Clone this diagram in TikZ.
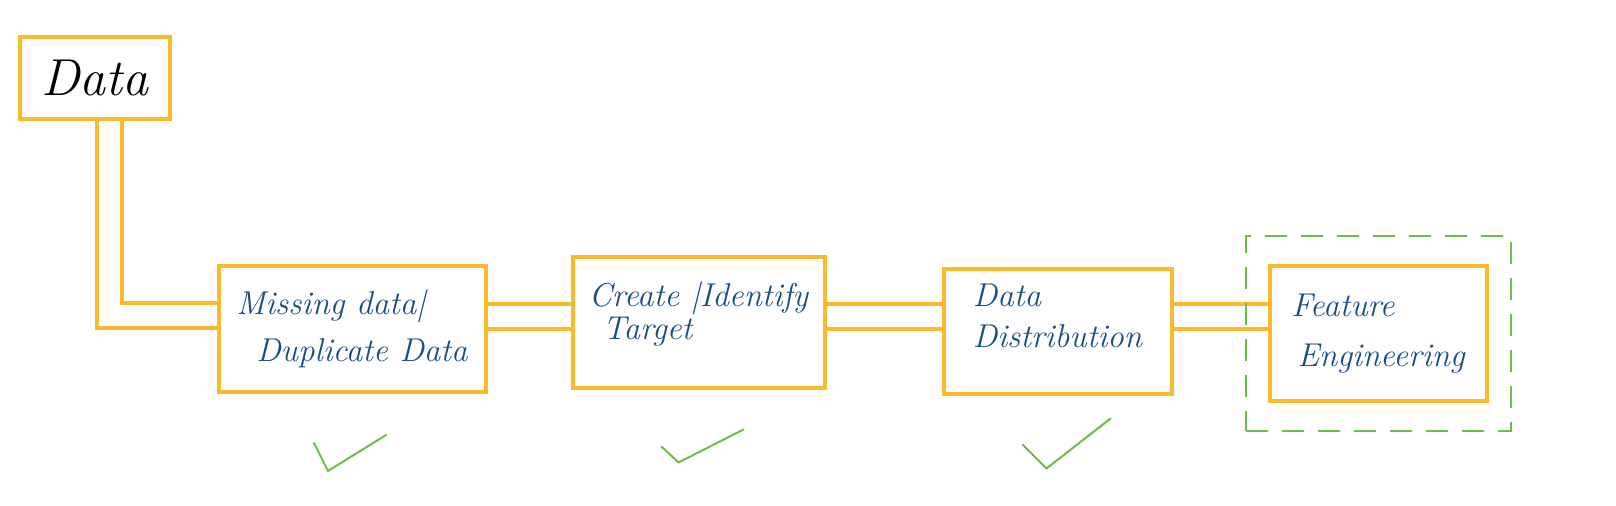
\documentclass[tikz,border=0pt]{standalone}
\usepackage{xcolor}
\usepackage{tikz}
\usetikzlibrary{positioning, fit, backgrounds}
\definecolor{boxYellow}{HTML}{F9BA2B}
\definecolor{inkBlue}{HTML}{1B4C8A}
\definecolor{tickGreen}{HTML}{6DBE45}

\begin{document}
\begin{tikzpicture}[
    x=0.5pt, y=-0.5pt,
    stage/.style={draw=boxYellow, line width=2pt, align=left,
                  font=\fontsize{16.5}{20}\selectfont\itshape, text=inkBlue},
    source/.style={draw=boxYellow, line width=2pt, minimum width=75pt,
                   minimum height=41pt, font=\fontsize{26}{30}\selectfont\itshape},
    pipe/.style={draw=boxYellow, line width=2pt, double=white,
                 double distance=10.5pt},
    checkmark/.style={draw=tickGreen, line width=1pt, line cap=round,
                      line join=round},
    focus/.style={draw=tickGreen, line width=1pt, dash pattern=on 11pt off 7pt},
]
\useasboundingbox (0,0) rectangle (1616,506);

% Source
\node[source] (data) at (95,78) {Data};

% Stages
\node[stage, minimum width=133.5pt, minimum height=63pt] (clean) at (352,329)
    {Missing data|\\[3.5pt]\hspace*{10pt}Duplicate Data};
\node[stage, minimum width=126pt, minimum height=65.5pt,
      right=41.5pt of clean, yshift=3pt] (target)
    {Create |Identify\\[-3.5pt]\hspace*{7pt}Target\\[-8pt]\mbox{}};
\node[stage, minimum width=114pt, minimum height=62.5pt,
      right=57.5pt of target, yshift=-4.5pt] (spread)
    {Data\\[0.5pt]Distribution\\[-4pt]\mbox{}};
\node[stage, minimum width=108.5pt, minimum height=67.5pt,
      right=47pt of spread, yshift=-1pt] (feature)
    {Feature\\[5pt]\hspace*{3pt}Engineering};

% Current step
\node[focus, fit=(feature), inner xsep=11pt, inner ysep=14pt] (focusbox) {};

% Pipes
\begin{scope}[on background layer]
\draw[pipe] ([xshift=7pt]data.south) |- ([yshift=6.5pt]clean.west);
\draw[pipe] ([yshift=6pt]clean.east) coordinate (p1) -- (target.west |- p1);
\draw[pipe] (target.east |- p1) -- (spread.west |- p1);
\draw[pipe] (spread.east |- p1) -- (feature.west |- p1);
\end{scope}

% Done marks
\draw[checkmark] ([shift={(-38,49)}]clean.south) -- ++(14,28) -- ++(58,-36);
\draw[checkmark] ([shift={(-37,56)}]target.south) -- ++(17,16) -- ++(65,-33);
\draw[checkmark] ([shift={(-35,48)}]spread.south) -- ++(24,24) -- ++(64,-50);
\end{tikzpicture}
\end{document}
